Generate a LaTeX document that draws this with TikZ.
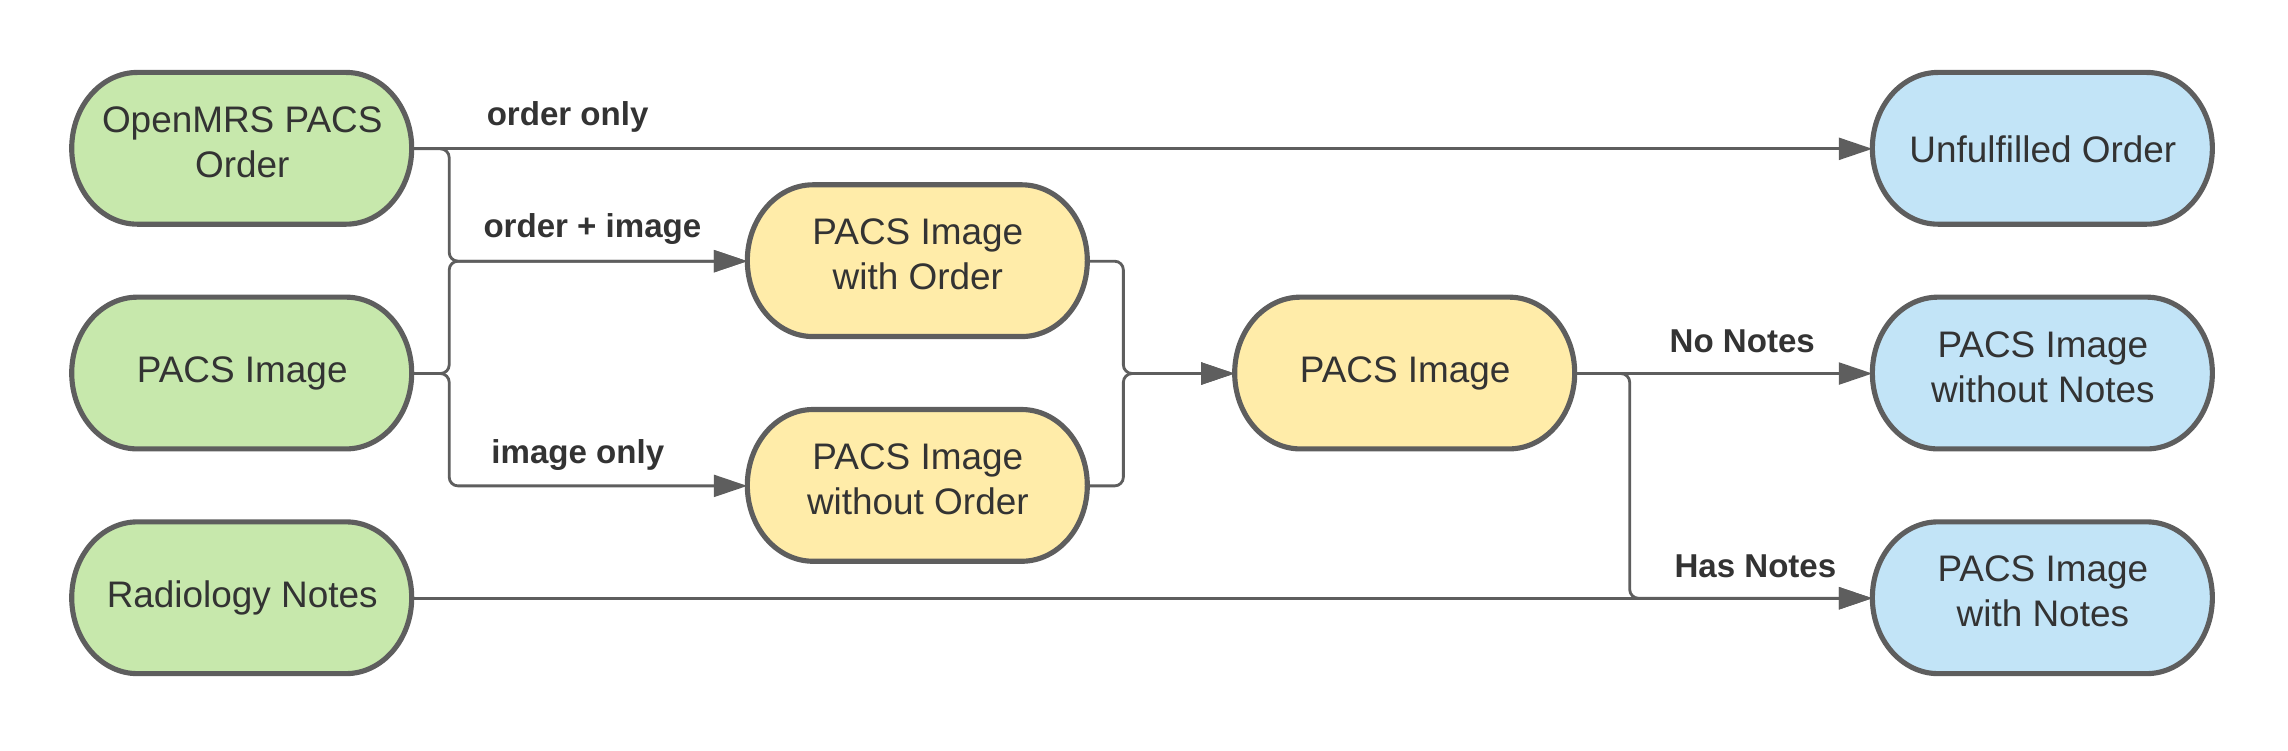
\documentclass[tikz,border=0pt]{standalone}
\usepackage{fontspec}
\setmainfont{Liberation Sans}
\usepackage{xcolor}
\usepackage{tikz}
\usetikzlibrary{shapes,positioning,calc,arrows.meta,backgrounds}

\definecolor{lineGray}{HTML}{5E5E5E}
\definecolor{textGray}{HTML}{333333}
\definecolor{srcGreen}{HTML}{C7E8AC}
\definecolor{midYellow}{HTML}{FFECA9}
\definecolor{outBlue}{HTML}{C2E4F7}

\begin{document}
\begin{tikzpicture}[
    state/.style={rectangle, minimum width=4.66cm, minimum height=2.08cm, inner sep=0pt, align=center,
        text=textGray, font=\fontsize{14.4}{17.6}\selectfont},
    twoline/.style={state, execute at end node=\strut},
    pill/.style={draw=lineGray, line width=2pt},
    flow/.style={draw=lineGray, line width=1.1pt, rounded corners=0.12cm, -{Triangle[length=4.6mm,width=3mm]}},
    lbl/.style={text=textGray, font=\bfseries\fontsize{12.9}{15}\selectfont}
]
    \useasboundingbox (0,0) rectangle (31.36,10.28);

    % Sources
    \node[twoline] (order) at (3.32,8.24) {OpenMRS PACS\\Order};
    \node[state] (image) at (3.32,5.16) {PACS Image};
    \node[state] (notes) at (3.32,2.08) {Radiology Notes};

    % Matching
    \node[twoline] (withOrder) at (12.58,6.70) {PACS Image\\with Order};
    \node[twoline] (withoutOrder) at (12.58,3.62) {PACS Image\\without Order};
    \node[state] (pacs) at (19.26,5.16) {PACS Image};

    % Results
    \node[state] (unfulfilled) at (28.0,8.24) {Unfulfilled Order};
    \node[twoline] (withoutNotes) at (28.0,5.16) {PACS Image\\without Notes};
    \node[twoline] (withNotes) at (28.0,2.08) {PACS Image\\with Notes};

    % Pill outlines behind the texts
    \begin{scope}[on background layer]
        \foreach \n/\c in {order/srcGreen, image/srcGreen, notes/srcGreen,
                withOrder/midYellow, withoutOrder/midYellow, pacs/midYellow,
                unfulfilled/outBlue, withoutNotes/outBlue, withNotes/outBlue}
            \draw[pill, fill=\c] ($(\n.north west)+(0.9,0)$) -- ++(2.86,0)
                arc[start angle=90, end angle=-90, x radius=0.9, y radius=1.04] -- ++(-2.86,0)
                arc[start angle=270, end angle=90, x radius=0.9, y radius=1.04] -- cycle;
    \end{scope}

    % Connectors
    \draw[flow] (order.east) -- (unfulfilled.west);
    \draw[flow] (order.east) -- ++(0.5,0) |- (withOrder.west);
    \draw[flow] (image.east) -- ++(0.5,0) |- (withOrder.west);
    \draw[flow] (image.east) -- ++(0.5,0) |- (withoutOrder.west);
    \draw[flow] (withOrder.east) -- ++(0.48,0) |- (pacs.west);
    \draw[flow] (withoutOrder.east) -- ++(0.48,0) |- (pacs.west);
    \draw[flow] (pacs.east) -- (withoutNotes.west);
    \draw[flow] (pacs.east) -- ++(0.74,0) |- (withNotes.west);
    \draw[flow] (notes.east) -- (withNotes.west);

    % Labels
    \node[lbl] (lblOrderOnly) at (7.78,8.68) {order only};
    \node[lbl] (lblOrderImage) at (8.12,7.14) {order + image};
    \node[lbl] (lblImageOnly) at (7.92,4.04) {image only};
    \node[lbl] (lblNoNotes) at (23.88,5.60) {No Notes};
    \node[lbl] (lblHasNotes) at (24.06,2.52) {Has Notes};
\end{tikzpicture}
\end{document}
